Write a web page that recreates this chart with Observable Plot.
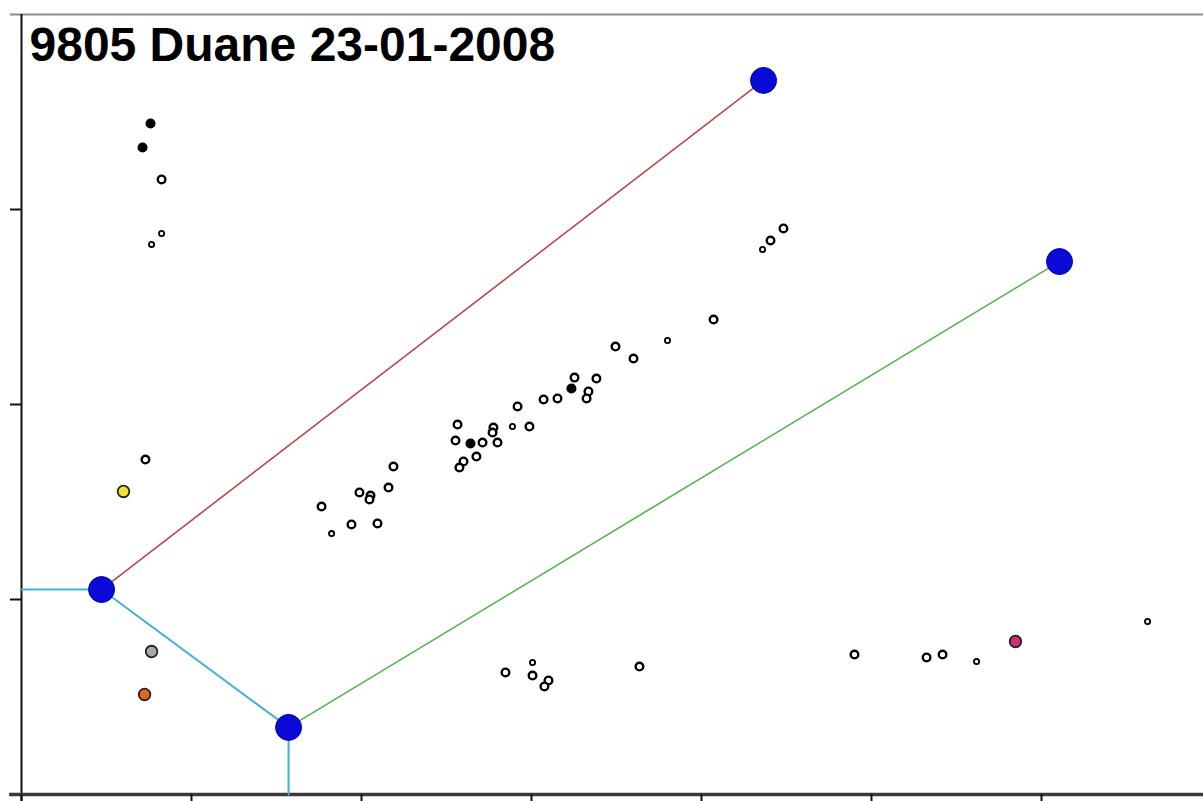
<!DOCTYPE html>
<html>
<head>
<meta charset="utf-8">
<script src="https://cdn.jsdelivr.net/npm/d3@7"></script>
<script src="https://cdn.jsdelivr.net/npm/@observablehq/plot@0.6"></script>
<style>
  html, body { margin: 0; padding: 0; background: #fff; }
  #chart svg { display: block; }
</style>
</head>
<body>
<div id="chart"></div>
<script>
const titleText = "9805 Duane 23-01-2008";

// Axis ticks
const xTicks = [0, 1, 2, 3, 4, 5, 6];
const yTicks = [1, 2, 3];

// Large blue nodes
const nodeNames = ["A", "B", "C", "D"];
const nodeX = [0.471, 1.571, 4.365, 6.106];
const nodeY = [1.051, 0.344, 3.662, 2.733];

// Connecting lines (by node / boundary coordinates)
const redLineX = [0.471, 4.365];
const redLineY = [1.051, 3.662];
const greenLineX = [1.571, 6.106];
const greenLineY = [0.344, 2.733];
const cyanLineX = [0.0, 0.471, 1.571, 1.571];
const cyanLineY = [1.051, 1.051, 0.344, 0.0];

// Small scatter points (kind: n = normal, s = small, f = filled)
const ptX = [0.759, 0.712, 0.824, 0.824, 0.765, 0.729, 4.482, 4.406, 4.359, 4.071,
             3.800, 3.494, 3.600, 3.382, 3.253, 3.235, 3.335, 3.324, 3.153, 3.071,
             2.918, 2.988, 2.888, 2.776, 2.771, 2.565, 2.553, 2.641, 2.712, 2.800,
             2.676, 2.600, 2.576, 2.188, 2.159, 1.988, 2.053, 2.047, 1.765, 1.941,
             2.094, 1.824, 2.847, 3.006, 3.006, 3.100, 3.076, 3.635, 4.900, 5.324,
             5.418, 5.618, 6.624];
const ptY = [3.441, 3.318, 3.154, 2.877, 2.821, 1.718, 2.903, 2.841, 2.795, 2.436,
             2.328, 2.297, 2.236, 2.133, 2.138, 2.082, 2.067, 2.031, 2.031, 2.026,
             1.990, 1.887, 1.887, 1.882, 1.856, 1.897, 1.815, 1.800, 1.805, 1.805,
             1.733, 1.708, 1.677, 1.682, 1.574, 1.549, 1.533, 1.513, 1.477, 1.385,
             1.390, 1.338, 0.626, 0.677, 0.610, 0.585, 0.554, 0.656, 0.718, 0.703,
             0.718, 0.682, 0.887];
const ptKind = ["f","f","n","s","s","n","n","n","s","n",
                "s","n","n","n","n","f","n","n","n","n",
                "n","n","s","n","n","n","n","f","n","n",
                "n","n","n","n","n","n","n","n","n","n",
                "n","s","n","s","n","n","n","n","n","n",
                "n","s","s"];

// Coloured special points
const specialNames = ["yellow", "gray", "orange", "magenta"];
const specialX = [0.600, 0.765, 0.724, 5.847];
const specialY = [1.554, 0.733, 0.513, 0.785];
const specialColors = ["#f2e23a", "#a8a8a8", "#e2661e", "#d02f78"];

// ---- build tables ----
const nodes = nodeNames.map((n, i) => ({name: n, x: nodeX[i], y: nodeY[i]}));
const toPath = (xs, ys) => xs.map((x, i) => ({x, y: ys[i]}));
const pts = ptX.map((x, i) => ({x, y: ptY[i], kind: ptKind[i]}));
const specials = specialNames.map((n, i) => ({name: n, x: specialX[i], y: specialY[i], color: specialColors[i]}));

const xMax = 6.953;
const chart = Plot.plot({
  width: 1203,
  height: 801,
  marginLeft: 21,
  marginRight: 0,
  marginTop: 14,
  marginBottom: 7,
  x: {domain: [0, xMax], axis: null, label: null},
  y: {domain: [0, 4], axis: null, label: null},
  style: {background: "#fff", overflow: "visible"},
  marks: [
    // frame lines
    Plot.ruleY([4], {x1: -0.065, x2: xMax, stroke: "#8a8a8a", strokeWidth: 2}),
    Plot.ruleX([0], {y1: 4, y2: -0.04, stroke: "#111", strokeWidth: 2}),
    Plot.ruleY([0], {x1: -0.07, x2: xMax, stroke: "#3a3a3a", strokeWidth: 3.5}),
    Plot.axisY({ticks: yTicks, tickSize: 11, tickFormat: () => "", label: null, stroke: "#111", strokeWidth: 2, anchor: "left"}),
    Plot.axisX({ticks: xTicks, tickSize: 8, tickFormat: () => "", label: null, stroke: "#111", strokeWidth: 2, anchor: "bottom", tickPadding: 0}),
    // lines
    Plot.line(toPath(redLineX, redLineY), {x: "x", y: "y", stroke: "#b8474f", strokeWidth: 1.6}),
    Plot.line(toPath(greenLineX, greenLineY), {x: "x", y: "y", stroke: "#56b24e", strokeWidth: 1.6}),
    Plot.line(toPath(cyanLineX, cyanLineY), {x: "x", y: "y", stroke: "#3fb3d6", strokeWidth: 2}),
    // small points
    Plot.dot(pts.filter(d => d.kind === "n"), {x: "x", y: "y", r: 3.8, fill: "#fff", stroke: "#000", strokeWidth: 2.4}),
    Plot.dot(pts.filter(d => d.kind === "s"), {x: "x", y: "y", r: 2.6, fill: "#fff", stroke: "#000", strokeWidth: 1.8}),
    Plot.dot(pts.filter(d => d.kind === "f"), {x: "x", y: "y", r: 4.3, fill: "#000", stroke: "#000", strokeWidth: 1.5}),
    // coloured points
    Plot.dot(specials, {x: "x", y: "y", r: 5.8, fill: "color", stroke: "#222", strokeWidth: 1.8}),
    // blue nodes
    Plot.dot(nodes, {x: "x", y: "y", r: 13, fill: "#0a0ad8", stroke: "#0000b0", strokeWidth: 1}),
    // title
    Plot.text([titleText], {frameAnchor: "top-left", dx: 8, dy: 12, textAnchor: "start", lineAnchor: "top",
      fontSize: 48, fontWeight: "bold", fontFamily: "Liberation Sans, Arial, sans-serif", fill: "#000"})
  ]
});
document.getElementById("chart").appendChild(chart);
</script>
</body>
</html>
